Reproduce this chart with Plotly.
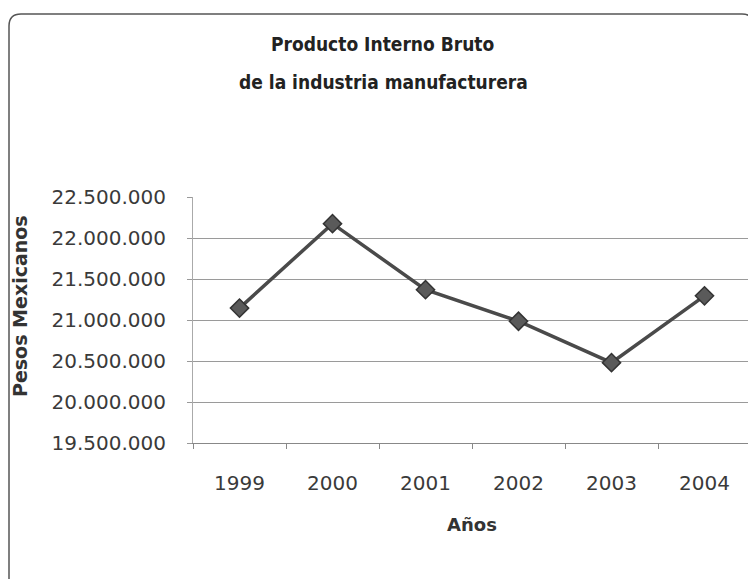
import plotly.graph_objects as go

years = ["1999", "2000", "2001", "2002", "2003", "2004"]
pib = [21145000, 22175000, 21370000, 20985000, 20480000, 21295000]
y_ticks = [19500000, 20000000, 20500000, 21000000, 21500000, 22000000, 22500000]
title_lines = ["Producto Interno Bruto", "de la industria manufacturera"]
y_title = "Pesos Mexicanos"
x_title = "Años"

OFF = 8  # page body margin
W, H = 756 - OFF, 579 - OFF
L, T = 193 - OFF, 197 - OFF
R = W - (751 - OFF)
B = H - (443 - OFF)
pw, ph = W - L - R, H - T - B

def px_x(x):
    return (x - OFF - L) / pw

def px_y(y):
    return (H - B - (y - OFF)) / ph

fig = go.Figure()
fig.add_trace(go.Scatter(
    x=years, y=pib, mode="lines+markers",
    line=dict(color="#4a4a4a", width=3.5),
    marker=dict(symbol="diamond", size=14, color="#5a5a5a",
                line=dict(color="#333333", width=1.5)),
    showlegend=False,
))

tick_font = dict(family="DejaVu Sans, sans-serif", size=20, color="#3a3a3a")
lab_font = dict(family="DejaVu Sans, sans-serif", size=18, color="#333333")
title_font = dict(family="DejaVu Sans Condensed, DejaVu Sans, sans-serif", size=19, color="#222222")
fig.update_layout(
    width=W, height=H,
    margin=dict(l=L, r=R, t=T, b=B),
    paper_bgcolor="white", plot_bgcolor="white",
    separators=",.",
    xaxis=dict(
        type="category", range=[-0.5, 5.5], showgrid=False, showline=True,
        linecolor="#888888", linewidth=1, ticks="outside", ticklen=5,
        tickcolor="#888888", tickson="boundaries", tickfont=tick_font,
        ticklabelstandoff=22,
        title=dict(text="<b>" + x_title + "</b>", standoff=24, font=lab_font),
    ),
    yaxis=dict(
        range=[19500000, 22500000], tickvals=y_ticks, tickformat=",d",
        showgrid=True, gridcolor="#9a9a9a", gridwidth=1,
        showline=True, linecolor="#aaaaaa", linewidth=1,
        ticks="outside", ticklen=5, tickcolor="#999999",
        tickfont=tick_font, ticklabelstandoff=17, zeroline=False,
    ),
    annotations=[
        dict(text="<b>" + title_lines[0] + "</b>", xref="paper", yref="paper",
             x=px_x(383), y=px_y(44), showarrow=False, xanchor="center", yanchor="middle",
             font=title_font),
        dict(text="<b>" + title_lines[1] + "</b>", xref="paper", yref="paper",
             x=px_x(383), y=px_y(82), showarrow=False, xanchor="center", yanchor="middle",
             font=title_font),
        dict(text="<b>" + y_title + "</b>", xref="paper", yref="paper",
             x=px_x(20), y=px_y(306), showarrow=False, textangle=-90,
             xanchor="center", yanchor="middle",
             font=dict(family="DejaVu Sans, sans-serif", size=19, color="#333333")),
    ],
)

# outer rounded frame (bottom cut off at the picture edge as in reference)
x0, x1 = px_x(9), px_x(754)
y0, y1 = px_y(600), px_y(14)
rx, ry = 12 / pw, 12 / ph
path = (f"M {x0},{y0} L {x0},{y1 - ry} Q {x0},{y1} {x0 + rx},{y1} "
        f"L {x1 - rx},{y1} Q {x1},{y1} {x1},{y1 - ry} L {x1},{y0}")
fig.add_shape(type="path", path=path, xref="paper", yref="paper",
              line=dict(color="#555555", width=1.5))

fig.write_html("out.html")
